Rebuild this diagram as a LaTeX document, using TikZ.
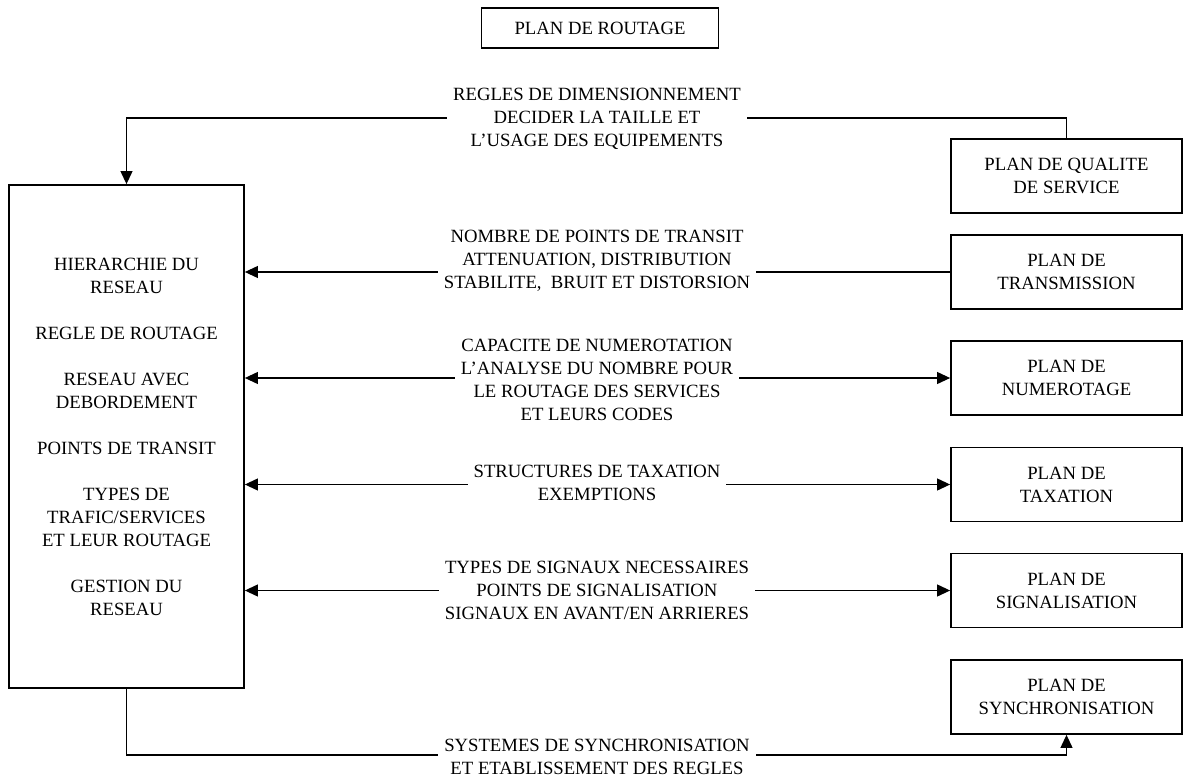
\documentclass[tikz,border=0pt]{standalone}
\usepackage{fontspec}
\setmainfont{Liberation Serif}
\usetikzlibrary{arrows.meta}
\begin{document}
\begin{tikzpicture}[x=0.5pt,y=-0.5pt,
  every node/.style={font=\fontsize{9.35pt}{11.5pt}\selectfont, align=center},
  box/.style={draw, line width=0.9pt, inner sep=0pt},
  plan/.style={box, minimum width=115.5pt, minimum height=37pt},
  lab/.style={fill=white, inner xsep=3pt, inner ysep=1pt},
  conn/.style={line width=0.55pt},
  tip/.style={-{Triangle[length=6.5pt,width=6pt]}},
  twoway/.style={{Triangle[length=6.5pt,width=6pt]}-{Triangle[length=6.5pt,width=6pt]}}
]
\useasboundingbox (0,0) rectangle (1184,776);

% title
\node[box, minimum width=118.5pt, minimum height=20pt] (rout) at (600,28) {PLAN DE ROUTAGE};

% routing network box
\node[box, minimum width=117.5pt, minimum height=251.5pt] (net) at (126.5,436.5)
  {HIERARCHIE DU\\RESEAU\\[11.5pt]
   REGLE DE ROUTAGE\\[11.5pt]
   RESEAU AVEC\\DEBORDEMENT\\[11.5pt]
   POINTS DE TRANSIT\\[11.5pt]
   TYPES DE\\TRAFIC/SERVICES\\ET LEUR ROUTAGE\\[11.5pt]
   GESTION DU\\RESEAU};

% the other plans
\node[plan] (qos) at (1066.5,176)   {PLAN DE QUALITE\\DE SERVICE};
\node[plan] (tra) at (1066.5,272)   {PLAN DE\\TRANSMISSION};
\node[plan] (num) at (1066.5,378)   {PLAN DE\\NUMEROTAGE};
\node[plan] (tax) at (1066.5,484.5) {PLAN DE\\TAXATION};
\node[plan] (sig) at (1066.5,590.5) {PLAN DE\\SIGNALISATION};
\node[plan] (syn) at (1066.5,697)   {PLAN DE\\SYNCHRONISATION};

% connectors
\coordinate (dimY) at (0,118);
\coordinate (synY) at (0,755);
\draw[conn,tip] (qos.north) -- (qos.north |- dimY) -- (net.north |- dimY) -- (net.north);
\draw[conn,tip] (tra.west) -- (tra.west -| net.east);
\draw[conn,twoway] (net.east |- num.west) -- (num.west);
\draw[conn,twoway] (net.east |- tax.west) -- (tax.west);
\draw[conn,twoway] (net.east |- sig.west) -- (sig.west);
\draw[conn,tip] (net.south) -- (net.south |- synY) -- (syn.south |- synY) -- (syn.south);

% connector labels
\node[lab] (ldim) at (597,118.5) {REGLES DE DIMENSIONNEMENT\\DECIDER LA TAILLE ET\\L’USAGE DES EQUIPEMENTS};
\node[lab] (ltra) at (597,261) {NOMBRE DE POINTS DE TRANSIT\\ATTENUATION, DISTRIBUTION\\STABILITE,~ BRUIT ET DISTORSION};
\node[lab] (lnum) at (597,380) {CAPACITE DE NUMEROTATION\\L’ANALYSE DU NOMBRE POUR\\LE ROUTAGE DES SERVICES\\ET LEURS CODES};
\node[lab] (ltax) at (597,483) {STRUCTURES DE TAXATION\\EXEMPTIONS};
\node[lab] (lsig) at (597,590) {TYPES DE SIGNAUX NECESSAIRES\\POINTS DE SIGNALISATION\\SIGNAUX EN AVANT/EN ARRIERES};
\node[lab] (lsyn) at (597,757) {SYSTEMES DE SYNCHRONISATION\\ET ETABLISSEMENT DES REGLES};
\end{tikzpicture}
\end{document}
